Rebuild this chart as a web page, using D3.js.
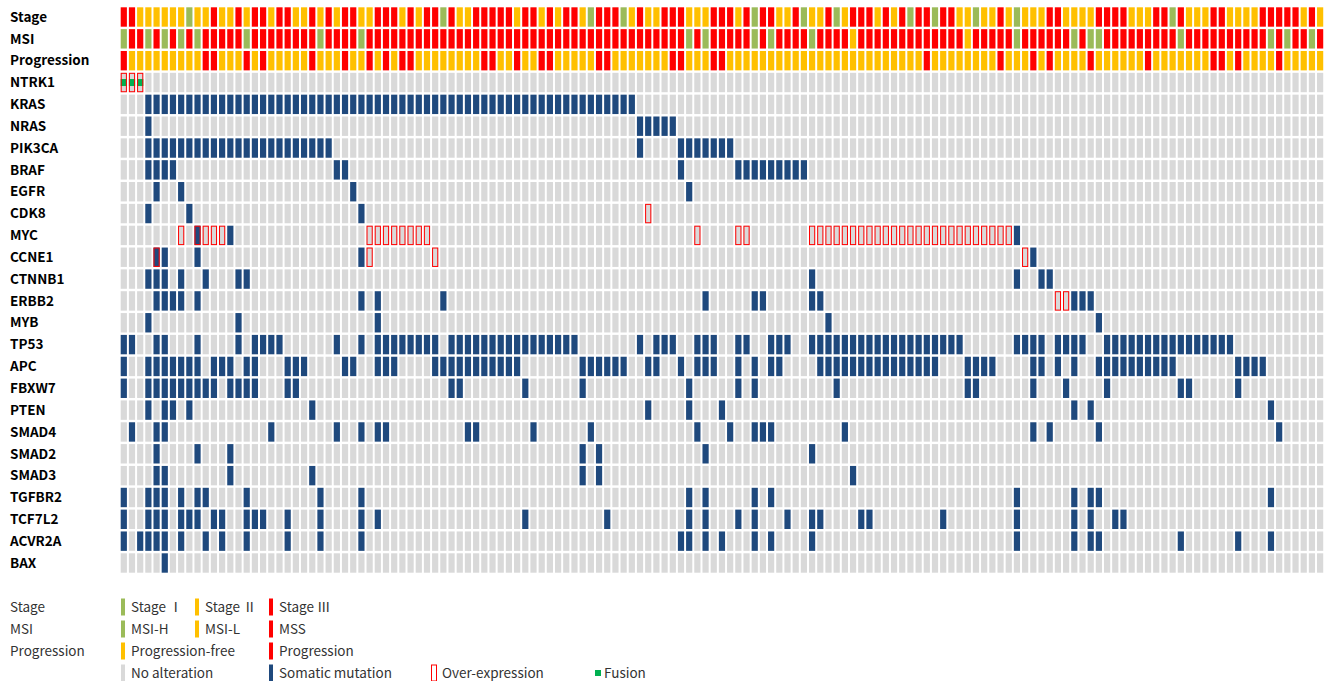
<!DOCTYPE html>
<html><head><meta charset="utf-8">
<script src="https://cdn.jsdelivr.net/npm/d3@7"></script>
<style>
html,body{margin:0;padding:0;background:#fff;}
svg{display:block;}
</style></head>
<body>
<svg id="chart" width="1324" height="681"></svg>
<script>
// ---------- DATA ----------
// Stage: 1 = Stage I, 2 = Stage II, 3 = Stage III (147 samples)
const stage = [
3,3,2,2,2,2,2,2,1,2, 2,3,2,2,3,2,3,3,2,3, 3,2,2,3,2,3,2,3,3,2,
2,3,3,3,2,3,2,3,3,1, 3,2,2,3,3,3,3,3,2,3, 3,2,3,2,3,3,2,1,3,3,
3,1,2,3,2,2,3,3,3,2, 2,2,3,3,3,2,3,1,3,3, 2,2,3,1,2,2,3,1,2,3,
3,3,2,3,2,3,1,3,3,1, 3,3,2,2,1,2,2,3,2,1, 2,2,2,3,3,2,2,2,2,3,
3,3,3,2,2,2,3,3,1,3, 2,2,2,3,3,2,2,2,2,3, 3,3,3,3,2,3,2];
// MSI: 1 = MSI-H, 2 = MSI-L, 3 = MSS
const msi = [
1,3,3,1,3,1,3,1,3,1, 3,3,3,3,3,1,3,3,3,3, 3,3,3,3,1,3,3,3,3,1,
3,3,3,3,3,3,3,3,3,3, 3,3,3,3,3,3,3,3,3,3, 3,3,3,3,3,3,3,3,3,3,
3,3,3,3,3,3,3,3,3,1, 3,1,3,3,3,3,3,1,3,1, 3,3,3,3,1,3,3,3,3,2,
3,3,3,3,3,3,3,3,3,3, 3,3,3,2,3,3,3,3,3,1, 3,3,3,3,3,3,1,3,1,1,
3,3,3,3,3,3,3,3,3,1, 3,3,3,3,3,3,3,3,3,3, 1,3,1,3,3,1,3];
// Progression: 1 = Progression-free, 2 = Progression
const progression = [
2,1,1,1,1,1,1,1,1,1, 2,2,1,1,1,2,1,2,1,1, 1,1,1,2,1,1,1,2,1,1,
2,1,2,1,2,2,1,1,1,1, 1,1,1,1,2,2,1,1,2,1, 1,2,2,1,1,1,1,1,2,2,
1,1,1,1,1,1,1,2,2,1, 1,1,2,2,1,1,1,1,1,1, 1,1,1,1,1,1,1,1,1,1,
1,1,1,1,1,1,1,1,2,1, 1,1,1,1,1,1,1,2,1,1, 1,2,1,2,1,1,1,1,2,1,
1,1,1,1,1,2,1,1,1,1, 1,1,1,2,2,1,2,1,1,1, 1,2,1,1,1,1,1];

const genes = ["NTRK1","KRAS","NRAS","PIK3CA","BRAF","EGFR","CDK8","MYC","CCNE1","CTNNB1","ERBB2","MYB","TP53","APC","FBXW7","PTEN","SMAD4","SMAD2","SMAD3","TGFBR2","TCF7L2","ACVR2A","BAX"];

// somatic mutation sample indices per gene
const mutNTRK1 = [];
const mutKRAS = [3,4,5,6,7,8,9,10,11,12,13,14,15,16,17,18,19,20,21,22,23,24,25,26,27,28,29,30,31,32,33,34,35,36,37,38,39,40,41,42,43,44,45,46,47,48,49,50,51,52,53,54,55,56,57,58,59,60,61,62];
const mutNRAS = [3,63,64,65,66,67];
const mutPIK3CA = [3,4,5,6,7,8,9,10,11,12,13,14,15,16,17,18,19,20,21,22,23,24,25,63,68,69,70,71,72,73,74];
const mutBRAF = [3,4,5,6,26,27,68,75,76,77,78,79,80,81,82,83];
const mutEGFR = [4,7,28,69];
const mutCDK8 = [3,8,29];
const mutMYC = [9,13,109];
const mutCCNE1 = [4,5,9,29,111];
const mutCTNNB1 = [3,4,5,7,10,14,15,84,109,112,113];
const mutERBB2 = [4,5,6,7,9,29,31,39,71,77,78,84,85,116,117,118];
const mutMYB = [3,14,31,86,119];
const mutTP53 = [0,1,4,5,9,14,16,17,18,19,26,29,31,32,33,34,35,36,37,38,40,41,42,43,44,45,46,47,48,49,50,51,52,53,54,55,63,65,66,67,70,71,72,75,76,79,80,81,84,85,86,87,88,89,90,91,92,93,94,95,96,97,98,99,100,101,102,109,110,111,112,114,115,116,117,120,121,122,123,124,125,126,127,128,129,130,131,132,133,134,135];
const mutAPC = [0,3,4,5,6,7,8,9,11,12,13,15,16,20,21,22,27,28,31,32,33,38,39,40,41,42,43,44,45,46,47,48,56,57,58,59,60,61,64,65,68,70,71,72,75,77,79,80,85,86,87,88,89,90,91,92,93,94,95,96,97,98,99,103,104,105,106,111,112,114,116,119,120,121,122,123,124,125,126,127,128,136,137,138,139];
const mutFBXW7 = [0,3,4,5,6,7,8,9,10,11,13,14,15,16,20,21,40,41,49,56,69,75,77,87,103,104,111,115,120,129,130,136];
const mutPTEN = [3,5,6,8,23,64,69,73,116,118,140];
const mutSMAD4 = [1,4,5,18,26,29,31,32,42,43,50,57,70,74,77,78,79,88,111,113,119,141];
const mutSMAD2 = [4,9,13,56,58,71,84];
const mutSMAD3 = [4,5,13,23,56,58,89];
const mutTGFBR2 = [0,3,4,5,7,9,10,15,24,29,69,71,77,79,109,116,118,119,140];
const mutTCF7L2 = [0,3,4,5,7,8,9,11,12,15,16,17,20,24,29,31,49,59,69,71,75,77,81,84,85,90,91,100,109,116,118,121,122];
const mutACVR2A = [0,2,3,4,5,7,10,12,15,20,24,29,68,69,71,73,77,79,84,109,116,118,119,129,136,140];
const mutBAX = [5];

// over-expression sample indices
const overNTRK1 = [0,1,2];
const overCDK8 = [64];
const overMYC = [7,9,10,11,12,30,31,32,33,34,35,36,37,70,75,76,84,85,86,87,88,89,90,91,92,93,94,95,96,97,98,99,100,101,102,103,104,105,106,107,108];
const overCCNE1 = [4,30,38,110];
const overERBB2 = [114,115];
// fusion sample indices
const fusionNTRK1 = [0,1,2];

const stageLabels = ["Stage \u2160","Stage \u2161","Stage \u2162"];
const msiLabels = ["MSI-H","MSI-L","MSS"];
const progLabels = ["Progression-free","Progression"];

// ---------- BUILD ----------
const mutLists = [mutNTRK1,mutKRAS,mutNRAS,mutPIK3CA,mutBRAF,mutEGFR,mutCDK8,mutMYC,mutCCNE1,mutCTNNB1,mutERBB2,mutMYB,mutTP53,mutAPC,mutFBXW7,mutPTEN,mutSMAD4,mutSMAD2,mutSMAD3,mutTGFBR2,mutTCF7L2,mutACVR2A,mutBAX];
const overMap = {NTRK1: overNTRK1, CDK8: overCDK8, MYC: overMYC, CCNE1: overCCNE1, ERBB2: overERBB2};
const fusionMap = {NTRK1: fusionNTRK1};

const nCols = stage.length;
const samples = d3.range(nCols);
const rowNames = ["Stage","MSI","Progression"].concat(genes);

const C = {green:"#9BBB59", yellow:"#FFC000", red:"#FF0000", gray:"#D9D9D9", blue:"#1F497D", fusion:"#00B050"};
const stageColor = d3.scaleOrdinal().domain([1,2,3]).range([C.green,C.yellow,C.red]);
const msiColor = d3.scaleOrdinal().domain([1,2,3]).range([C.green,C.yellow,C.red]);
const progColor = d3.scaleOrdinal().domain([1,2]).range([C.yellow,C.red]);

const x0 = 120.7, step = 8.194, cw = 6.2;
const padX = 1 - cw/step;
const x = d3.scaleBand().domain(samples).range([x0, x0 + step*(nCols - padX)]).paddingInner(padX).paddingOuter(0);
const y0 = 7.3, rstep = 21.84, ch = 19.4;
const padY = 1 - ch/rstep;
const y = d3.scaleBand().domain(rowNames).range([y0, y0 + rstep*(rowNames.length - padY)]).paddingInner(padY).paddingOuter(0);

const svg = d3.select("#chart");
const FONT = "'Noto Sans CJK KR','Noto Sans',sans-serif";

// row labels
svg.append("g").selectAll("text").data(rowNames).join("text")
  .attr("x", 10).attr("y", d => y(d) + y.bandwidth()/2)
  .attr("dy","0.35em")
  .attr("font-family", FONT).attr("font-weight","bold").attr("font-size", 13.5)
  .attr("fill","#000").text(d => d);

// annotation rows
const annot = [["Stage", stage, stageColor],["MSI", msi, msiColor],["Progression", progression, progColor]];
annot.forEach(([name, vals, col]) => {
  svg.append("g").selectAll("rect").data(vals).join("rect")
    .attr("x", (d,i) => x(i)).attr("y", y(name))
    .attr("width", x.bandwidth()).attr("height", y.bandwidth())
    .attr("fill", d => col(d));
});

// gene rows
genes.forEach((g, gi) => {
  const mset = new Set(mutLists[gi]);
  const g1 = svg.append("g");
  g1.selectAll("rect.cell").data(samples).join("rect").attr("class","cell")
    .attr("x", i => x(i)).attr("y", y(g))
    .attr("width", x.bandwidth()).attr("height", y.bandwidth())
    .attr("fill", i => mset.has(i) ? C.blue : C.gray);
  const fus = fusionMap[g] || [];
  g1.selectAll("rect.fus").data(fus).join("rect").attr("class","fus")
    .attr("x", i => x(i)).attr("y", y(g) + y.bandwidth()/2 - 3.5)
    .attr("width", x.bandwidth()).attr("height", 7)
    .attr("fill", C.fusion);
  const ov = overMap[g] || [];
  g1.selectAll("rect.ov").data(ov).join("rect").attr("class","ov")
    .attr("x", i => x(i) + 0.5).attr("y", y(g) + 0.5)
    .attr("width", x.bandwidth() - 1).attr("height", y.bandwidth() - 1)
    .attr("fill","none").attr("stroke", C.red).attr("stroke-width", 1);
});

// ---------- LEGEND ----------
const legend = svg.append("g").attr("font-family", FONT).attr("font-size", 13.5).attr("fill","#333");
const legRows = [607, 629, 651, 673];
const legTitles = ["Stage","MSI","Progression"];
legTitles.forEach((t, i) => legend.append("text").attr("x", 10).attr("y", legRows[i]).attr("dy","0.35em").text(t));

const colX = [121, 195, 269];
function bar(xp, yc, color){
  legend.append("rect").attr("x", xp).attr("y", yc - 8.5).attr("width", 4).attr("height", 17).attr("fill", color);
}
function label(xp, yc, t){
  legend.append("text").attr("x", xp).attr("y", yc).attr("dy","0.35em").text(t);
}
stageLabels.forEach((t, i) => { bar(colX[i], legRows[0], stageColor(i+1)); label(colX[i] + 10, legRows[0], t); });
msiLabels.forEach((t, i) => { bar(colX[i], legRows[1], msiColor(i+1)); label(colX[i] + 10, legRows[1], t); });
progLabels.forEach((t, i) => { const cx = i === 0 ? colX[0] : colX[2]; bar(cx, legRows[2], progColor(i+1)); label(cx + 10, legRows[2], t); });
bar(colX[0], legRows[3], C.gray); label(colX[0] + 10, legRows[3], "No alteration");
bar(colX[2], legRows[3], C.blue); label(colX[2] + 10, legRows[3], "Somatic mutation");
legend.append("rect").attr("x", 431.5).attr("y", legRows[3] - 8).attr("width", 5).attr("height", 16)
  .attr("fill","none").attr("stroke", C.red).attr("stroke-width", 1);
label(442, legRows[3], "Over-expression");
legend.append("rect").attr("x", 595).attr("y", legRows[3] - 3).attr("width", 6).attr("height", 6).attr("fill", C.fusion);
label(604, legRows[3], "Fusion");
</script>
</body></html>
